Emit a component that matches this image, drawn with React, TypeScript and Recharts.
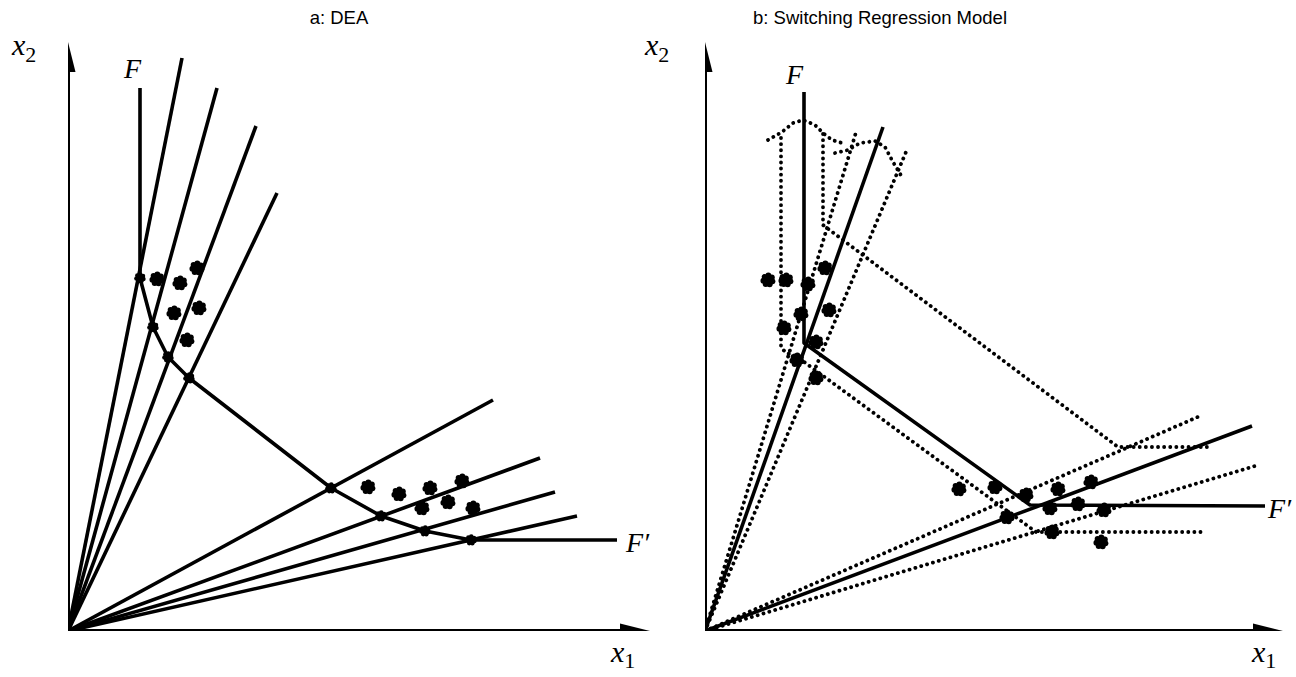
import React from 'react'
import { ScatterChart, Scatter, XAxis, YAxis } from 'recharts'

type Pt = { x: number; y: number }

const ORIGIN: Pt = { x: 0, y: 0 }

// ---- panel a: DEA ----
const aFrontier: Pt[] = [
  { x: 72, y: 543 }, { x: 72, y: 353 }, { x: 85, y: 304 }, { x: 100, y: 274 },
  { x: 121, y: 253 }, { x: 263, y: 143 }, { x: 313, y: 115 }, { x: 357, y: 100 },
  { x: 403, y: 91 }, { x: 549, y: 91 },
]
const aKinks: Pt[] = [
  { x: 72, y: 353 }, { x: 85, y: 304 }, { x: 100, y: 274 }, { x: 121, y: 253 },
  { x: 263, y: 143 }, { x: 313, y: 115 }, { x: 357, y: 100 }, { x: 403, y: 91 },
]
const aRayEnds: Pt[] = [
  { x: 114, y: 573 }, { x: 149, y: 543 }, { x: 188, y: 505 }, { x: 209, y: 438 },
  { x: 425, y: 231 }, { x: 472, y: 173 }, { x: 487, y: 139 }, { x: 509, y: 115 },
]
const aFirms: Pt[] = [
  { x: 89, y: 352 }, { x: 112, y: 348 }, { x: 129, y: 363 }, { x: 106, y: 318 },
  { x: 131, y: 323 }, { x: 119, y: 291 },
  { x: 300, y: 144 }, { x: 331, y: 137 }, { x: 362, y: 143 }, { x: 394, y: 150 },
  { x: 354, y: 123 }, { x: 380, y: 129 }, { x: 405, y: 123 },
]

// ---- panel b: switching regression ----
const bFrontier: Pt[] = [
  { x: 99, y: 539 }, { x: 99, y: 288 }, { x: 325, y: 126 }, { x: 560, y: 125 },
]
const bOuterBand: Pt[] = [
  { x: 118, y: 497 }, { x: 118, y: 406 }, { x: 413, y: 184 }, { x: 502, y: 184 },
]
const bInnerBand: Pt[] = [
  { x: 76, y: 493 }, { x: 76, y: 284 }, { x: 81, y: 278 }, { x: 91, y: 275 },
  { x: 331, y: 99 }, { x: 497, y: 99 },
]
const bSolidRayEnds: Pt[] = [{ x: 178, y: 504 }, { x: 547, y: 205 }]
const bDottedRayEnds: Pt[] = [
  { x: 152, y: 502 }, { x: 201, y: 479 }, { x: 495, y: 215 }, { x: 550, y: 165 },
]
const bDensityLeft: Pt[] = [
  { x: 63, y: 491 }, { x: 77, y: 499 }, { x: 88, y: 508 }, { x: 98, y: 511 },
  { x: 110, y: 506 }, { x: 118, y: 498 }, { x: 127, y: 491 }, { x: 137, y: 488 },
]
const bDensityRight: Pt[] = [
  { x: 130, y: 478 }, { x: 143, y: 481 }, { x: 155, y: 488 }, { x: 170, y: 490 },
  { x: 180, y: 484 }, { x: 188, y: 469 }, { x: 197, y: 454 },
]
const bFirms: Pt[] = [
  { x: 63, y: 351 }, { x: 81, y: 351 }, { x: 103, y: 347 }, { x: 120, y: 363 },
  { x: 124, y: 321 }, { x: 96, y: 317 }, { x: 79, y: 303 }, { x: 111, y: 289 },
  { x: 92, y: 271 }, { x: 111, y: 253 },
  { x: 254, y: 142 }, { x: 290, y: 144 }, { x: 321, y: 136 }, { x: 353, y: 142 },
  { x: 386, y: 149 }, { x: 302, y: 114 }, { x: 345, y: 123 }, { x: 373, y: 127 },
  { x: 399, y: 121 }, { x: 347, y: 99 }, { x: 396, y: 89 },
]

const INK = '#000'
const SOLID = { stroke: INK, strokeWidth: 3.6, strokeLinejoin: 'round' as const }
const AXIS = { stroke: INK, strokeWidth: 4 }
const DOTTED = { stroke: INK, strokeWidth: 3.8, strokeDasharray: '0.1 6', strokeLinecap: 'round' as const }

const Nothing = () => <g />

const Blob = (props: any) => {
  const { cx, cy } = props
  const s = props.small ? 0.85 : 1.1
  const petals = [0, 1, 2, 3, 4, 5, 6].map(i => {
    const a = (i / 7) * Math.PI * 2 + 0.3
    return <circle key={i} cx={cx + Math.cos(a) * 4.2 * s} cy={cy + Math.sin(a) * 4.2 * s} r={2.7 * s} fill={INK} />
  })
  return (
    <g>
      {petals}
      <circle cx={cx} cy={cy} r={4.8 * s} fill={INK} />
    </g>
  )
}

const UpArrow = (props: any) => {
  const { cx, cy } = props
  return <polygon points={`${cx},${cy} ${cx - 7.5},${cy + 30} ${cx + 7.5},${cy + 30}`} fill={INK} />
}
const RightArrow = (props: any) => {
  const { cx, cy } = props
  return <polygon points={`${cx},${cy} ${cx - 30},${cy - 7.5} ${cx - 30},${cy + 7.5}`} fill={INK} />
}

const W = 680
const H = 677
const MARGIN_TOP = 31
const MARGIN_BOTTOM = 46

function Panel({ left, originX, xTip, children }: { left: number; originX: number; xTip: number; children: React.ReactNode }) {
  return (
    <div style={{ position: 'absolute', left, top: 0 }}>
      <ScatterChart
        width={W}
        height={H}
        margin={{ top: MARGIN_TOP, bottom: MARGIN_BOTTOM, left: originX, right: W - originX - 600 }}
      >
        <XAxis type="number" dataKey="x" domain={[0, 600]} allowDataOverflow hide />
        <YAxis type="number" dataKey="y" domain={[0, 600]} allowDataOverflow hide width={0} />
        {/* axes with arrow heads */}
        <Scatter data={[ORIGIN, { x: 0, y: 570 }]} line={AXIS} shape={Nothing} isAnimationActive={false} />
        <Scatter data={[ORIGIN, { x: xTip - 20, y: 0 }]} line={AXIS} shape={Nothing} isAnimationActive={false} />
        <Scatter data={[{ x: 0, y: 589 }]} shape={UpArrow} isAnimationActive={false} />
        <Scatter data={[{ x: xTip, y: 0 }]} shape={RightArrow} isAnimationActive={false} />
        {children}
      </ScatterChart>
    </div>
  )
}

export default function App() {
  const serif = '"Liberation Serif", "Times New Roman", serif'
  const sans = '"Liberation Sans", Arial, sans-serif'
  return (
    <div style={{ position: 'absolute', left: 0, top: 0, width: 1296, height: 677, overflow: 'hidden', background: '#fff' }}>
      <Panel left={0} originX={68} xTip={582}>
        {aRayEnds.map((e, i) => (
          <Scatter key={'ar' + i} data={[ORIGIN, e]} line={SOLID} shape={Nothing} isAnimationActive={false} />
        ))}
        <Scatter data={aFrontier} line={SOLID} shape={Nothing} isAnimationActive={false} />
        <Scatter data={aKinks} shape={(p: any) => <Blob {...p} small />} isAnimationActive={false} />
        <Scatter data={aFirms} shape={Blob} isAnimationActive={false} />
      </Panel>

      <Panel left={640} originX={65} xTip={578}>
        {bDottedRayEnds.map((e, i) => (
          <Scatter key={'bd' + i} data={[ORIGIN, e]} line={DOTTED} shape={Nothing} isAnimationActive={false} />
        ))}
        <Scatter data={bOuterBand} line={DOTTED} shape={Nothing} isAnimationActive={false} />
        <Scatter data={bInnerBand} line={DOTTED} shape={Nothing} isAnimationActive={false} />
        <Scatter data={bDensityLeft} line={DOTTED} shape={Nothing} isAnimationActive={false} />
        <Scatter data={bDensityRight} line={DOTTED} shape={Nothing} isAnimationActive={false} />
        {bSolidRayEnds.map((e, i) => (
          <Scatter key={'bs' + i} data={[ORIGIN, e]} line={SOLID} shape={Nothing} isAnimationActive={false} />
        ))}
        <Scatter data={bFrontier} line={SOLID} shape={Nothing} isAnimationActive={false} />
        <Scatter data={bFirms} shape={Blob} isAnimationActive={false} />
      </Panel>

      <svg width={1296} height={677} style={{ position: 'absolute', left: 0, top: 0, pointerEvents: 'none' }}>
        <g fontFamily={sans} fontSize={18.5} fill={INK} textAnchor="middle">
          <text x={339} y={24}>a: DEA</text>
          <text x={880} y={24}>b: Switching Regression Model</text>
        </g>
        <g fontFamily={serif} fill={INK}>
          <text x={12} y={55} fontSize={30}><tspan fontStyle="italic">x</tspan><tspan fontSize={22} dy={7}>2</tspan></text>
          <text x={645} y={55} fontSize={30}><tspan fontStyle="italic">x</tspan><tspan fontSize={22} dy={7}>2</tspan></text>
          <text x={611} y={662} fontSize={30}><tspan fontStyle="italic">x</tspan><tspan fontSize={22} dy={6}>1</tspan></text>
          <text x={1252} y={662} fontSize={30}><tspan fontStyle="italic">x</tspan><tspan fontSize={22} dy={6}>1</tspan></text>
          <text x={124} y={78} fontSize={28} fontStyle="italic">F</text>
          <text x={786} y={84} fontSize={28} fontStyle="italic">F</text>
          <text x={626} y={552} fontSize={28} fontStyle="italic">F′</text>
          <text x={1268} y={518} fontSize={28} fontStyle="italic">F′</text>
        </g>
      </svg>
    </div>
  )
}
